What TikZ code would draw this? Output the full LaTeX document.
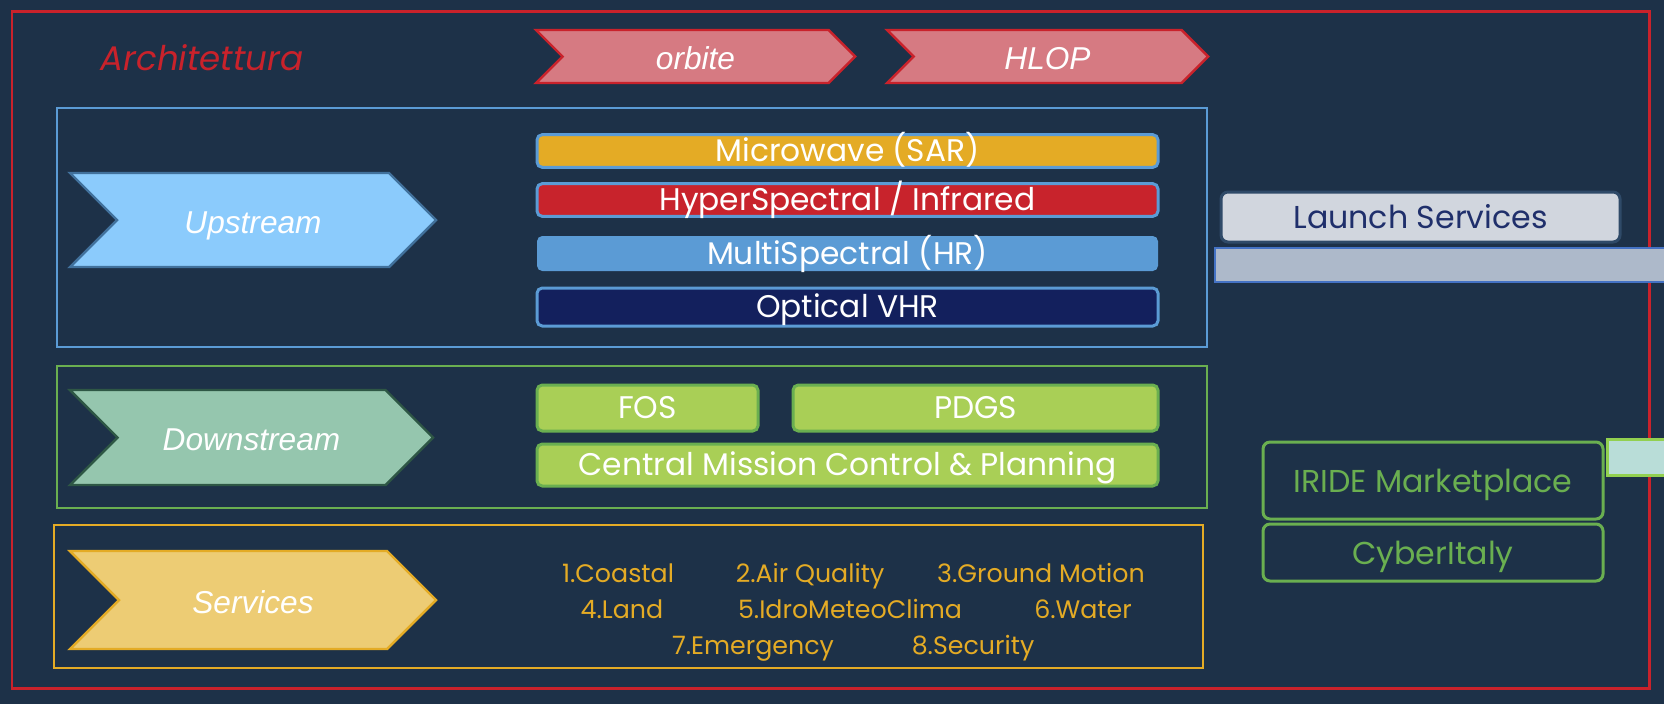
\documentclass[tikz,border=0pt]{standalone}
\usepackage{fontspec}
\setmainfont{Poppins}
\newfontfamily\arialfont{Liberation Sans}
\usetikzlibrary{shapes.symbols}

\definecolor{bgnavy}{RGB}{29,49,72}
\definecolor{framered}{RGB}{201,34,43}
\definecolor{pinkfill}{RGB}{214,122,130}
\definecolor{upblue}{RGB}{91,155,213}
\definecolor{upfill}{RGB}{139,203,252}
\definecolor{upedge}{RGB}{65,113,156}
\definecolor{sargold}{RGB}{228,171,37}
\definecolor{hyperred}{RGB}{200,35,44}
\definecolor{vhrnavy}{RGB}{19,32,93}
\definecolor{downgreen}{RGB}{106,175,80}
\definecolor{downfill}{RGB}{149,198,174}
\definecolor{downedge}{RGB}{46,87,69}
\definecolor{limefill}{RGB}{169,207,86}
\definecolor{servfill}{RGB}{237,204,116}
\definecolor{launchfill}{RGB}{209,214,222}
\definecolor{launchedge}{RGB}{47,74,104}
\definecolor{launchtext}{RGB}{31,47,107}
\definecolor{greybar}{RGB}{173,185,202}
\definecolor{greyedge}{RGB}{68,114,196}
\definecolor{cyanfill}{RGB}{185,221,216}
\definecolor{cyanedge}{RGB}{146,208,80}

\tikzset{
  chevron/.style={signal, signal from=west, signal to=east, signal pointer angle=90,
    line width=0.7pt, inner sep=0pt, text=white, text height=1.6ex, text depth=0.2ex,
    font=\arialfont\itshape\fontsize{9}{10}\selectfont},
  bar/.style={rounded corners=1.5pt, line width=0.85pt, draw=upblue, inner sep=0pt,
    text=white, text height=1.4ex, text depth=0.3ex, font=\fontsize{8.9}{10}\selectfont},
  groundbox/.style={bar, draw=downgreen, fill=limefill},
  sidebox/.style={rounded corners=2pt, line width=0.85pt, inner sep=0pt,
    text height=1.5ex, text depth=0.3ex, font=\fontsize{9}{10}\selectfont},
  servitem/.style={text=sargold, inner sep=0pt, text height=1.5ex, text depth=0.3ex,
    font=\fontsize{7.2}{9}\selectfont}
}

\begin{document}
\begin{tikzpicture}[x=1cm,y=-1cm]
    \fill[bgnavy] (0,0) rectangle (16.64,7.04);
    \useasboundingbox (0,0) rectangle (16.64,7.04);

    \draw[framered, line width=0.85pt] (0.12,0.115) rectangle (16.49,6.88);
    \node[text=framered, font=\itshape\fontsize{9.7}{11}\selectfont] (arch) at (2.02,0.58) {Architettura};

    \node[chevron, draw=framered, fill=pinkfill, minimum width=3.19cm, minimum height=0.53cm] (orbite) at (6.955,0.565) {orbite};
    \node[chevron, draw=framered, fill=pinkfill, minimum width=3.21cm, minimum height=0.53cm] (hlop) at (10.475,0.565) {HLOP};

    \draw[upblue, line width=0.7pt] (0.57,1.08) rectangle (12.07,3.47);
    \draw[downgreen, line width=0.7pt] (0.57,3.66) rectangle (12.07,5.08);
    \draw[sargold, line width=0.7pt] (0.54,5.25) rectangle (12.03,6.68);

    \node[chevron, draw=upedge, fill=upfill, minimum width=3.66cm, minimum height=0.94cm] (up) at (2.53,2.20) {Upstream};
    \node[chevron, draw=downedge, fill=downfill, minimum width=3.63cm, minimum height=0.95cm] (down) at (2.515,4.375) {Downstream};
    \node[chevron, draw=sargold, fill=servfill, minimum width=3.66cm, minimum height=0.98cm] (serv) at (2.53,6.00) {Services};

    \node[bar, fill=sargold, minimum width=6.21cm, minimum height=0.32cm] (sar) at (8.475,1.51) {Microwave (SAR)};
    \node[bar, fill=hyperred, minimum width=6.21cm, minimum height=0.32cm] (hyper) at (8.475,2.00) {HyperSpectral / Infrared};
    \node[bar, draw=none, fill=upblue, minimum width=6.21cm, minimum height=0.35cm] (multi) at (8.475,2.535) {MultiSpectral (HR)};
    \node[bar, fill=vhrnavy, minimum width=6.21cm, minimum height=0.38cm] (vhr) at (8.475,3.07) {Optical VHR};

    \node[groundbox, minimum width=2.21cm, minimum height=0.46cm] (fos) at (6.475,4.08) {FOS};
    \node[groundbox, minimum width=3.65cm, minimum height=0.46cm] (pdgs) at (9.755,4.08) {PDGS};
    \node[groundbox, minimum width=6.21cm, minimum height=0.42cm] (cmcp) at (8.475,4.65) {Central Mission Control \& Planning};

    \node[servitem] (s1) at (6.18,5.71) {1.Coastal};
    \node[servitem] (s2) at (8.10,5.71) {2.Air Quality};
    \node[servitem] (s3) at (10.41,5.71) {3.Ground Motion};
    \node[servitem] (s4) at (6.22,6.07) {4.Land};
    \node[servitem] (s5) at (8.50,6.07) {5.IdroMeteoClima};
    \node[servitem] (s6) at (10.83,6.07) {6.Water};
    \node[servitem] (s7) at (7.53,6.43) {7.Emergency};
    \node[servitem] (s8) at (9.73,6.43) {8.Security};

    \node[sidebox, draw=launchedge, fill=launchfill, text=launchtext, minimum width=3.99cm, minimum height=0.50cm] (launch) at (14.205,2.17) {Launch Services};
    \node[draw=greyedge, fill=greybar, line width=0.7pt, minimum width=4.7cm, minimum height=0.34cm] (lbar) at (14.50,2.65) {};

    \node[sidebox, draw=downgreen, text=downgreen, minimum width=3.40cm, minimum height=0.77cm] (iride) at (14.33,4.805) {IRIDE Marketplace};
    \node[sidebox, draw=downgreen, text=downgreen, minimum width=3.40cm, minimum height=0.57cm] (cyber) at (14.33,5.525) {CyberItaly};
    \node[draw=cyanedge, fill=cyanfill, line width=0.85pt, minimum width=0.8cm, minimum height=0.36cm] (mbar) at (16.47,4.57) {};
\end{tikzpicture}
\end{document}
